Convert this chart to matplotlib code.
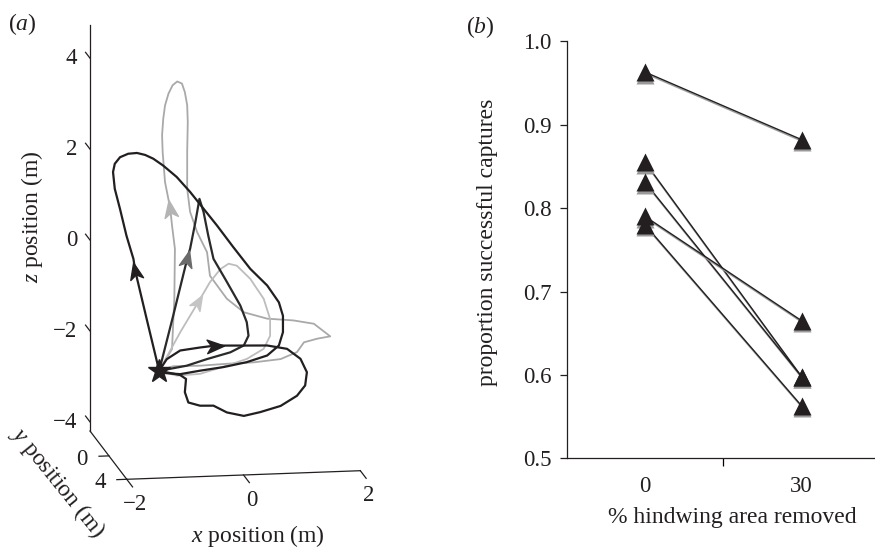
import numpy as np
import matplotlib
matplotlib.use("Agg")
import matplotlib.pyplot as plt
from matplotlib.path import Path
from matplotlib.markers import MarkerStyle
from matplotlib.transforms import Affine2D, offset_copy

plt.rcParams.update({
    "font.family": "Liberation Serif", "font.size": 16.5,
    "mathtext.fontset": "custom", "mathtext.rm": "Liberation Serif",
    "mathtext.it": "Liberation Serif:italic",
    "axes.linewidth": 0.9, "axes.unicode_minus": True,
})
W, H = 875, 548
INK = "#231f20"

# ---- panel (a): flight paths (x, z in m, all at depth y = 0) ----
PERCH = (-1.14, 0.0, -2.37)
PATH_A_X = [-1.14, -1.35, -1.55, -1.58, -1.70, -1.81, -1.90, -1.93, -1.90, -1.81,
            -1.67, -1.52, -1.38, -1.24, -1.07, -0.84, -0.61, -0.38, -0.15, 0.13,
            0.42, 0.71, 0.91, 0.98, 0.98, 0.91, 0.71, 0.36, -0.04, -0.44,
            -0.78, -1.07, -1.14]
PATH_A_Z = [-2.37, -1.24, -0.15, 0.11, 0.63, 1.22, 1.67, 2.04, 2.22, 2.36,
            2.43, 2.44, 2.39, 2.30, 2.14, 1.88, 1.54, 1.16, 0.78, 0.29,
            -0.20, -0.58, -0.96, -1.26, -1.62, -1.91, -2.12, -2.25, -2.34, -2.40,
            -2.46, -2.42, -2.37]
PATH_B_X = [-1.14, -1.01, -0.78, -0.44, -0.18, 0.25, 0.71, 1.05, 1.28, 1.39,
            1.36, 1.22, 0.94, 0.59, 0.31, 0.02, -0.21, -0.44, -0.64, -0.70,
            -0.68, -0.78, -1.14]
PATH_B_Z = [-2.37, -2.12, -1.94, -1.89, -1.86, -1.88, -1.90, -1.99, -2.22, -2.52,
            -2.81, -3.03, -3.24, -3.36, -3.43, -3.34, -3.18, -3.17, -3.09, -2.86,
            -2.57, -2.48, -2.37]
PATH_C_X = [-1.14, -0.90, -0.66, -0.61, -0.52, -0.45, -0.38, -0.30, -0.21, 0.02,
            0.25, 0.36, 0.39, 0.31, 0.08, -0.32, -0.67, -1.14]
PATH_C_Z = [-2.37, -1.17, 0.07, 0.29, 0.87, 1.38, 1.09, 0.57, 0.05, -0.47,
            -1.00, -1.37, -1.67, -1.88, -2.02, -2.15, -2.28, -2.37]
PATH_D_X = [-1.14, -0.92, -0.88, -0.87, -0.92, -0.95, -1.04, -1.08, -1.09, -1.07,
            -1.04, -0.98, -0.91, -0.83, -0.75, -0.70, -0.66, -0.65, -0.66, -0.66,
            -0.61, -0.49, -0.32, -0.27, 0.02, 0.31, 0.71, 1.16, 1.51, 1.79,
            1.57, 1.34, 1.22, 0.94, 0.48, 0.02, -0.44, -0.90, -1.14]
PATH_D_Z = [-2.37, -1.90, -0.80, 0.30, 0.82, 1.19, 1.78, 2.44, 2.81, 3.17,
            3.46, 3.72, 3.90, 3.98, 3.93, 3.74, 3.45, 3.08, 2.42, 1.61,
            1.10, 0.65, 0.20, -0.32, -0.84, -1.15, -1.31, -1.37, -1.46, -1.75,
            -1.79, -1.86, -2.07, -2.21, -2.26, -2.27, -2.29, -2.28, -2.37]
PATH_E_X = [-1.14, -0.78, -0.47, -0.27, -0.09, 0.05, 0.19, 0.42, 0.65, 0.76,
            0.76, 0.65, 0.36, 0.02, -0.44, -0.84, -1.14]
PATH_E_Z = [-2.37, -1.54, -0.89, -0.46, -0.18, -0.07, -0.12, -0.42, -0.87, -1.32,
            -1.69, -1.97, -2.18, -2.31, -2.47, -2.49, -2.37]
ARROW_AT = {"A": 2, "B": 4, "C": 2, "D": 5, "E": 2}

Z_TICKS = [-4, -2, 0, 2, 4]
Y_TICKS = [0, 4]
X_TICKS = [-2, 0, 2]

# ---- panel (b): capture success per individual ----
HW_REMOVED = ["0", "30"]
CAPTURE_0 = [0.963, 0.855, 0.831, 0.790, 0.780]
CAPTURE_30 = [0.882, 0.598, 0.598, 0.665, 0.563]

XLIM, YLIM, ZLIM = (-2, 2), (-4.25, 4), (-4.2, 4.73)


def fx(px):
    return px / W


def fy(py):
    return 1 - py / H


def to_px(ax, x, y, z):
    v = ax.get_proj() @ np.array([x, y, z, 1.0])
    return ax.transData.transform((v[0] / v[3], v[1] / v[3]))


def num(t):
    return f"{t:g}".replace("-", "\u2212")


def arrow_marker(angle):
    verts = np.array([(1, 0), (-0.9, 0.75), (-0.4, 0), (-0.9, -0.75), (1, 0)])
    verts = Affine2D().rotate_deg(angle).transform(verts)
    codes = [Path.MOVETO, Path.LINETO, Path.LINETO, Path.LINETO, Path.CLOSEPOLY]
    return MarkerStyle(Path(verts, codes))


fig = plt.figure(figsize=(W / 100, H / 100), dpi=100)

ax = fig.add_axes([0.0, 0.05, 0.5, 0.5 * W / H], projection="3d")
ax.set_proj_type("ortho")
ax.view_init(elev=12.7, azim=-99.5)
ax.set_box_aspect((236.5, 222.4, 415.6))
ax.set_xlim(*XLIM)
ax.set_ylim(YLIM[1], YLIM[0])
ax.set_zlim(*ZLIM)
ax.set_axis_off()
ax.set_facecolor("none")
ax.computed_zorder = False

# axis lines and ticks, MATLAB style
x0, y0, z0 = XLIM[0], YLIM[0], ZLIM[0]
ax.plot([x0, x0], [y0, y0], [z0, ZLIM[1]], color=INK, lw=0.9)
ax.plot([x0, x0], [y0, YLIM[1]], [z0, z0], color=INK, lw=0.9)
ax.plot([x0, XLIM[1]], [YLIM[1], YLIM[1]], [z0, z0], color=INK, lw=0.9)
for t in Z_TICKS:
    ax.plot([x0, x0], [y0, y0 - 1.0], [t, t], color=INK, lw=0.9)
for t in Y_TICKS:
    ax.plot([x0, x0 - 0.17], [t, t], [z0, z0], color=INK, lw=0.9)
for t in X_TICKS:
    ax.plot([t, t], [YLIM[1], YLIM[1] + 1.3], [z0, z0], color=INK, lw=0.9)

paths = {
    "D": (PATH_D_X, PATH_D_Z, "#a9a9a9", "#b4b4b4", 1.3),
    "E": (PATH_E_X, PATH_E_Z, "#bdbdbd", "#c4c4c4", 1.3),
    "C": (PATH_C_X, PATH_C_Z, "#2a2a2a", "#6b6b6b", 1.6),
    "A": (PATH_A_X, PATH_A_Z, INK, INK, 1.6),
    "B": (PATH_B_X, PATH_B_Z, INK, INK, 1.6),
}
for k, (px, pz, col, acol, lw) in paths.items():
    ax.plot(px, np.full(len(px), PERCH[1]), pz, color=col, lw=lw, zorder=2,
            solid_joinstyle="round")
ax.plot([PERCH[0]], [PERCH[1]], [PERCH[2]], marker="*", ms=17, color=INK,
        ls="none", zorder=5)

# fit the 3D box onto the figure
for _ in range(2):
    fig.canvas.draw()
    a = to_px(ax, x0, y0, z0)
    b = to_px(ax, x0, y0, ZLIM[1])
    s = (H - 25 - (H - 431)) / (b[1] - a[1])
    l, bt, w, h = ax.get_position(original=True).bounds
    ax.set_position([l, bt, w * s, h * s])
    fig.canvas.draw()
    a = to_px(ax, x0, y0, z0)
    l, bt, w, h = ax.get_position(original=True).bounds
    ax.set_position([l + (90 - a[0]) / W, bt + (H - 431 - a[1]) / H, w, h])
fig.canvas.draw()

for k, (px, pz, col, acol, lw) in paths.items():
    i = ARROW_AT[k]
    p0 = to_px(ax, px[i - 1], PERCH[1], pz[i - 1])
    p1 = to_px(ax, px[i + 1], PERCH[1], pz[i + 1])
    ang = np.degrees(np.arctan2(p1[1] - p0[1], p1[0] - p0[0]))
    ax.plot([px[i]], [PERCH[1]], [pz[i]], marker=arrow_marker(ang), ms=13,
            color=acol, ls="none", zorder=4)

# tick labels placed at the projected tick positions
for t in Z_TICKS:
    p = to_px(ax, x0 - 0.22, y0, t)
    fig.text(p[0] / W, p[1] / H, num(t), ha="right", va="center", color=INK)
for t in Y_TICKS:
    p = to_px(ax, x0 - 0.46, t, z0 - 0.05)
    fig.text(p[0] / W, p[1] / H, num(t), ha="center", va="center", color=INK)
for t in X_TICKS:
    p = to_px(ax, t, YLIM[1] + 1.8, z0 - 0.32)
    fig.text(p[0] / W, p[1] / H, num(t), ha="center", va="center", color=INK)

fig.text(fx(22), fy(24), r"($a$)", ha="center", va="center", fontsize=17, color=INK)
fig.text(fx(32), fy(217), r"$z$ position (m)", rotation=90, ha="center",
         va="center", fontsize=17, color=INK)
fig.text(fx(258), fy(536), r"$x$ position (m)", ha="center", va="center",
         fontsize=17, color=INK)
fig.text(fx(58), fy(482), r"$y$ position (m)", rotation=-51, ha="center",
         va="center", rotation_mode="anchor", fontsize=17, color=INK)

# ---- panel (b) ----
bx = fig.add_axes([fx(566.7), fy(458.4), 313.2 / W, 417.2 / H])
pos = np.arange(1, len(HW_REMOVED) + 1)
line_shadow = offset_copy(bx.transData, fig=fig, x=0.5, y=-1.6, units="dots")
mark_shadow = offset_copy(bx.transData, fig=fig, x=0.0, y=-2.6, units="dots")
for c0, c30 in zip(CAPTURE_0, CAPTURE_30):
    bx.plot(pos, [c0, c30], color="#9c9c9c", lw=1.0, transform=line_shadow)
    bx.plot(pos, [c0, c30], color=INK, lw=1.0)
for p, vals in zip(pos, [CAPTURE_0, CAPTURE_30]):
    bx.plot(np.full(len(vals), p), vals, "^", ms=13, color="#9a9a9a", mec="none",
            transform=mark_shadow, clip_on=False)
    bx.plot(np.full(len(vals), p), vals, "^", ms=13, color=INK, mec="none",
            clip_on=False)

bx.set_xlim(0.5, 2.5)
bx.set_ylim(0.5, 1.0)
bx.set_yticks(np.arange(0.5, 1.01, 0.1))
bx.set_yticklabels([f"{v:.1f}" for v in np.arange(0.5, 1.01, 0.1)])
bx.set_xticks(pos)
bx.set_xticklabels(HW_REMOVED)
bx.set_xticks([1.5], minor=True)
bx.tick_params(axis="x", which="major", length=0, pad=12.5, colors=INK)
bx.tick_params(axis="x", which="minor", length=6, width=0.9, direction="out")
bx.tick_params(axis="y", length=5, width=0.9, pad=6, colors=INK)
for sp in ("top", "right"):
    bx.spines[sp].set_visible(False)
for sp in ("left", "bottom"):
    bx.spines[sp].set_color(INK)
bx.patch.set_alpha(0)

fig.text(fx(480), fy(27), r"($b$)", ha="center", va="center", fontsize=17, color=INK)
fig.text(fx(488), fy(242), "proportion successful captures", rotation=90,
         ha="center", va="center", fontsize=17, color=INK)
fig.text(fx(732), fy(517), "% hindwing area removed", ha="center", va="center",
         fontsize=17, color=INK)

fig.savefig("out.png", dpi=100)
